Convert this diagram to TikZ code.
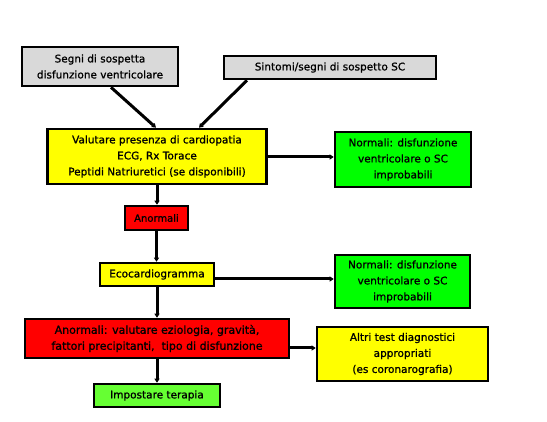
\documentclass[tikz,border=0pt]{standalone}
\usepackage{fontspec}
\setmainfont[FakeBold=1]{DejaVu Sans}
\usetikzlibrary{arrows.meta}
\definecolor{boxgray}{RGB}{217,217,217}
\definecolor{boxyellow}{RGB}{255,255,0}
\definecolor{boxgreen}{RGB}{0,255,0}
\definecolor{boxlgreen}{RGB}{102,255,51}
\definecolor{boxred}{RGB}{255,0,0}
\begin{document}
\begin{tikzpicture}[x=1pt,y=-1pt,
  box/.style={draw=black,line width=2.6pt,align=center,inner sep=0pt,
    font=\fontsize{10.5}{16}\selectfont},
  arr/.style={line width=3pt,-{Triangle[length=4pt,width=5pt]}}]
\useasboundingbox[fill=white] (0,0) rectangle (547,422);
\node[box,fill=boxgray,minimum width=156pt,minimum height=39pt] (b1) at (100,66.5) {Segni di sospetta\\disfunzione ventricolare};
\node[box,fill=boxgray,minimum width=212pt,minimum height=23pt] (b2) at (330,67.5) {Sintomi/segni di sospetto SC};
\node[box,fill=boxyellow,minimum width=219pt,minimum height=55pt] (main) at (157,156.5) {Valutare presenza di cardiopatia\\ECG, Rx Torace\\Peptidi Natriuretici (se disponibili)};
\node[box,fill=boxgreen,minimum width=136pt,minimum height=55pt] (g1) at (403,159.5) {Normali: disfunzione\\ventricolare o SC\\improbabili};
\node[box,fill=boxred,minimum width=63pt,minimum height=24pt,font=\fontsize{10}{12}\selectfont] (an) at (156.5,218) {Anormali};
\node[box,fill=boxyellow,minimum width=114pt,minimum height=23pt] (eco) at (157,274.5) {Ecocardiogramma};
\node[box,fill=boxgreen,minimum width=135pt,minimum height=53pt] (g2) at (402.5,281.5) {Normali: disfunzione\\ventricolare o SC\\improbabili};
\node[box,fill=boxred,minimum width=264pt,minimum height=39pt,font=\fontsize{11}{16}\selectfont] (r2) at (157,338.5) {Anormali: valutare eziologia, gravità,\\fattori precipitanti,\ \ tipo di disfunzione};
\node[box,fill=boxyellow,minimum width=171pt,minimum height=54pt] (y2) at (402.5,354) {Altri test diagnostici\\appropriati\\(es coronarografia)};
\node[box,fill=boxlgreen,minimum width=126pt,minimum height=23pt] (g3) at (157,395.5) {Impostare terapia};
\draw[arr] ([xshift=11pt]b1.south) -- ([xshift=-1pt]main.north);
\draw[arr] ([xshift=-83pt]b2.south) -- ([xshift=42pt]main.north);
\draw[arr] ([yshift=-0.5pt]main.east) -- ([yshift=-0.5pt]main.east -| g1.west);
\draw[arr] (main.south) -- (main.south |- an.north);
\draw[arr] (an.south) -- (an.south |- eco.north);
\draw[arr] ([yshift=-4.5pt]eco.east) -- ([yshift=-4.5pt]eco.east -| g2.west);
\draw[arr] (eco.south) -- (r2.north);
\draw[arr] ([yshift=-9.5pt]r2.east) -- ([yshift=-9.5pt]r2.east -| y2.west);
\draw[arr] (r2.south) -- (g3.north);
\end{tikzpicture}
\end{document}
